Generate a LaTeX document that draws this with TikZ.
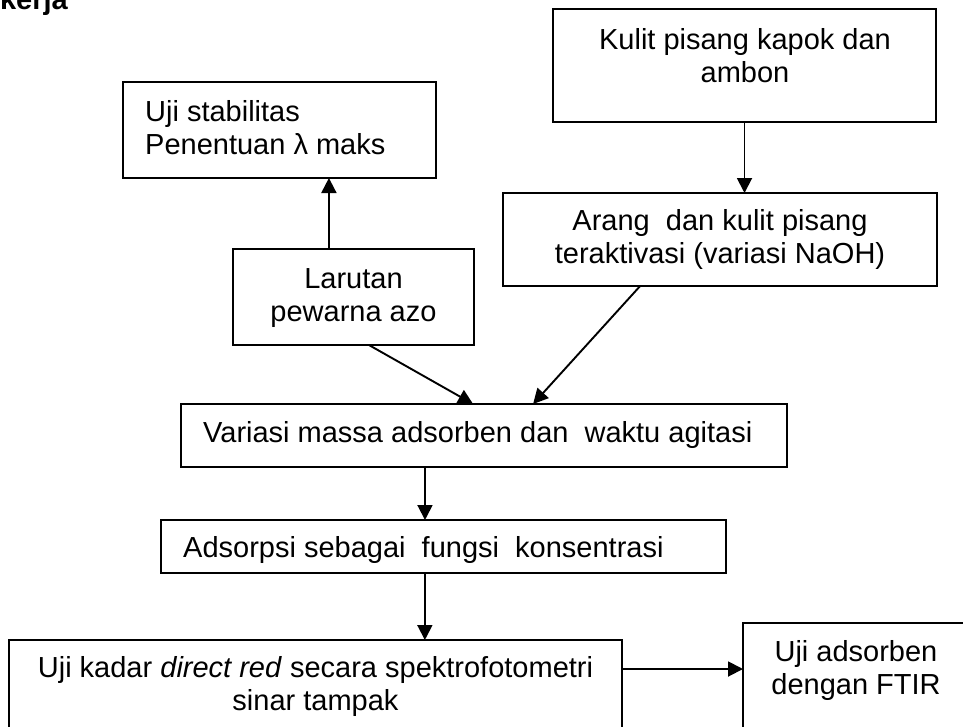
\documentclass[tikz,border=0pt]{standalone}
\usepackage{fontspec}
\setmainfont{Liberation Sans}
\usetikzlibrary{arrows.meta,calc}
\begin{document}
\begin{tikzpicture}[x=1pt,y=-1pt,
  box/.style={draw=black, line width=1.9pt, inner sep=0pt, outer sep=0pt, rectangle},
  txt/.style={inner sep=0pt, font=\fontsize{29}{33}\selectfont},
  arr/.style={line width=1.9pt, -{Triangle[length=15pt,width=15pt]}}]
\useasboundingbox (0,0) rectangle (963,726);
\begin{scope}
\clip (0,0) rectangle (963,726);
% boxes
\node[box, minimum width=383pt, minimum height=113pt] (kulit) at (744.5,65.5) {};
\node[box, minimum width=434pt, minimum height=93pt] (arang) at (720,239.5) {};
\node[box, minimum width=313pt, minimum height=96pt] (stab) at (279.5,130) {};
\node[box, minimum width=241pt, minimum height=96pt] (lar) at (353.5,297) {};
\node[box, minimum width=606pt, minimum height=63pt] (var) at (484,435.5) {};
\node[box, minimum width=565pt, minimum height=53pt] (ads) at (443.5,546.5) {};
\node[box, minimum width=613pt, minimum height=130pt] (kadar) at (315.5,705) {};
\node[box, minimum width=240pt, minimum height=150pt] (ftir) at (863,698) {};
% texts
\node[font=\bfseries\fontsize{29}{33}\selectfont, inner sep=0pt, anchor=base east] (title) at (68,9) {kerja};
\node[txt, anchor=base, align=center] (tkulit) at (745,82) {Kulit pisang kapok dan\\ambon};
\node[txt, anchor=base, align=center] (tarang) at (720,263) {Arang\ \ dan kulit pisang\\teraktivasi (variasi NaOH)};
\node[txt, anchor=base west, align=left] (tstab) at (145,154) {Uji stabilitas\\Penentuan λ maks};
\node[txt, anchor=base, align=center] (tlar) at (353.5,321) {Larutan\\pewarna azo};
\node[txt, anchor=base west] (tvar) at (203,442) {Variasi massa adsorben dan\ \ waktu agitasi};
\node[txt, anchor=base west] (tads) at (183,557) {Adsorpsi sebagai\ \ fungsi\ \ konsentrasi};
\node[txt, anchor=base, align=center] (tkadar) at (315.5,710) {Uji kadar \textit{direct red} secara spektrofotometri\\sinar tampak};
\node[txt, anchor=base, align=center] (tftir) at (856,694) {Uji adsorben\\dengan FTIR};
% connectors
\draw[arr] (kulit.south) -- (kulit.south |- arang.north);
\coordinate (lartop) at ($(lar.north west)!0.398!(lar.north east)$);
\draw[arr] (lartop) -- (lartop |- stab.south);
\draw[arr] ($(lar.south west)!0.564!(lar.south east)$) -- ($(var.north west)!0.482!(var.north east)$);
\draw[arr] ($(arang.south west)!0.316!(arang.south east)$) -- ($(var.north west)!0.581!(var.north east)$);
\coordinate (varbot) at ($(var.south west)!0.4026!(var.south east)$);
\draw[arr] (varbot) -- (varbot |- ads.north);
\coordinate (adsbot) at ($(ads.south west)!0.467!(ads.south east)$);
\draw[arr] (adsbot) -- (adsbot |- kadar.north);
\coordinate (kadarright) at ([yshift=-29pt]kadar.north east);
\draw[arr] (kadarright) -- (kadarright -| ftir.west);
\end{scope}
\end{tikzpicture}
\end{document}
